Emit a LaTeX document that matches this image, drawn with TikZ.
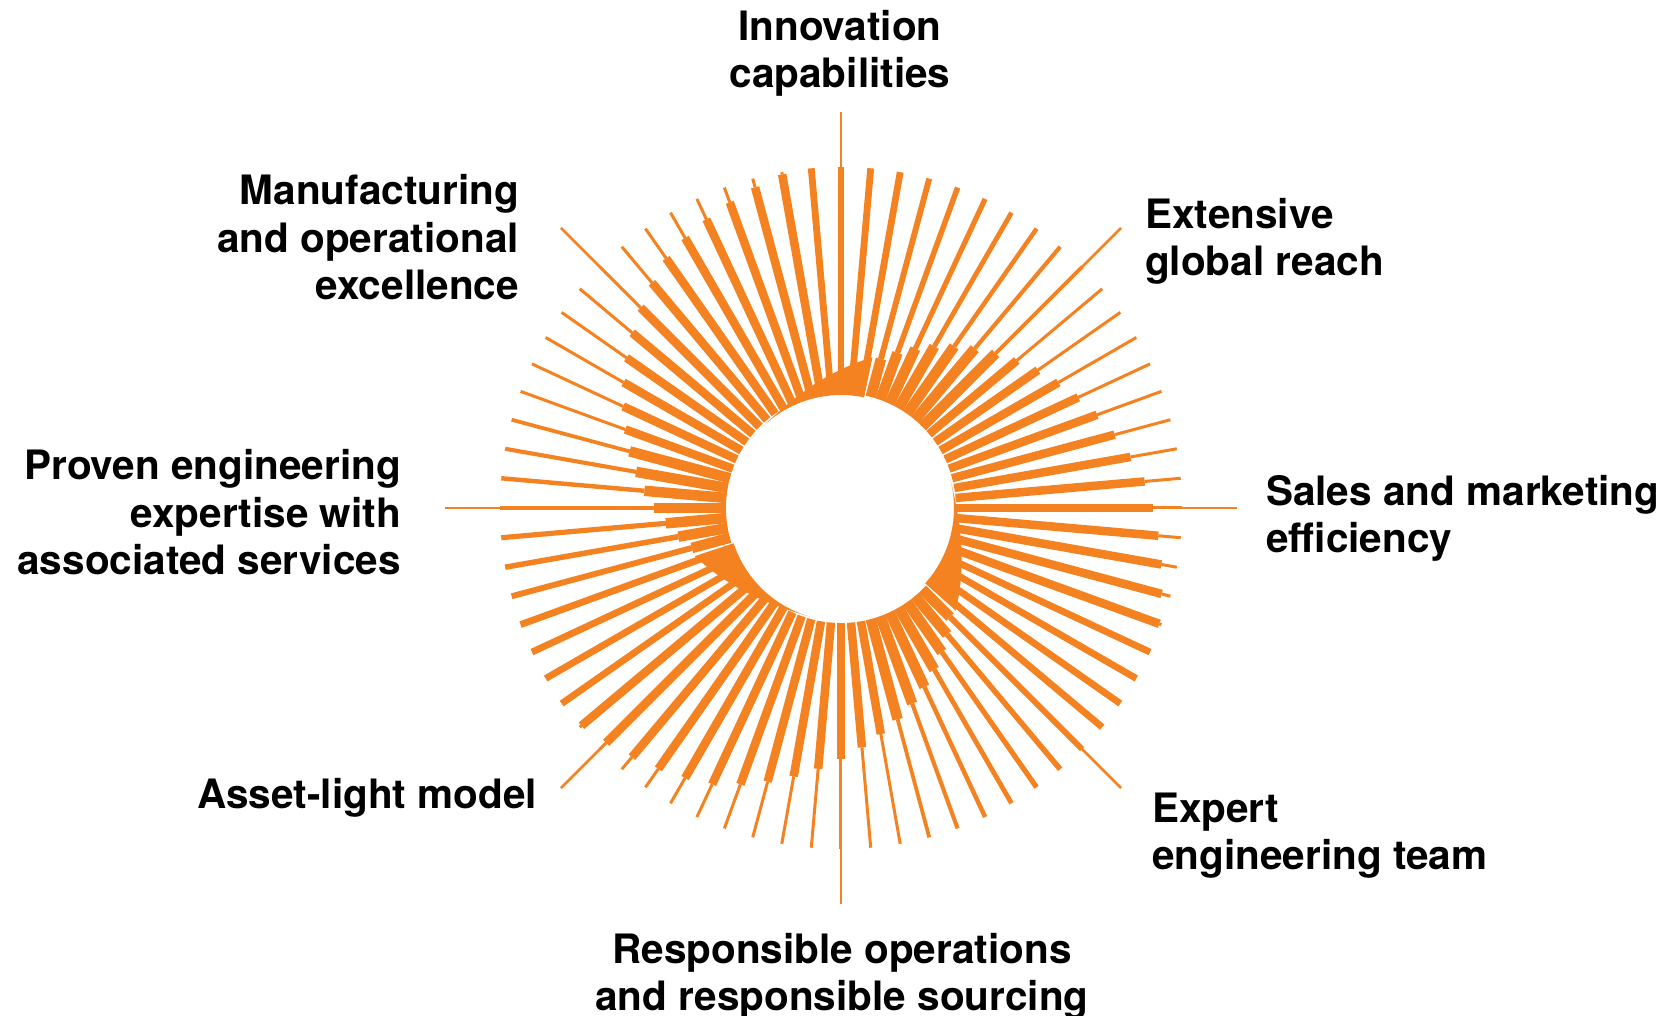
\documentclass[tikz,border=0pt]{standalone}
\usepackage{fontspec}
\setmainfont{TeX Gyre Heros}
\definecolor{sunor}{RGB}{245,130,32}
\begin{document}
\begin{tikzpicture}[x=1pt,y=1pt,
  lbl/.style={font=\fontsize{40.5}{47.5}\selectfont\bfseries, inner sep=0pt, text=black}]
\useasboundingbox (-841,-508) rectangle (824,508);
% crescents
\foreach \te in {11.8,131.8,251.8}{
  \pgfmathsetmacro\ts{\te-56}
  \fill[sunor] plot[domain=\ts:\te, samples=40] ({90-\x}:{113+41*((\x-\ts)/56)^2})
     -- ({90-\te}:113) arc[start angle={90-\te}, end angle={90-\ts}, radius=113] -- cycle;
}
% spikes
\foreach \i in {0,...,71}{
  \pgfmathsetmacro\t{5*\i}
  \pgfmathsetmacro\ps{mod(\t-13+360,120)}
  \pgfmathsetmacro\rs{\ps<=72 ? 150+2.15*\ps : min(341,305+1.35*(\ps-72))}
  \pgfmathsetmacro\wb{\ps<=34 ? 10.5 : (\ps>99 ? 6.8 : 8.5)}
  \pgfmathsetmacro\wo{\ps<=34 ? 6-0.07*\ps : 3}
  \draw[sunor, line width={\wb pt}] ({90-\t}:115) -- ({90-\t}:\rs);
  \draw[sunor, line width={\wo pt}] ({90-\t}:\rs) -- ({90-\t}:341);
}
% long lines
\foreach \a in {0,45,...,315}
  \draw[sunor, line width=2.6pt] ({90-\a}:340) -- ({90-\a}:396);
% labels
\node[lbl, anchor=north, align=center] (innov) at (-1,498) {Innovation\\capabilities};
\node[lbl, anchor=north east, align=right] (manuf) at (-322,333.5) {Manufacturing\\and operational\\excellence};
\node[lbl, anchor=north west, align=left] (reach) at (304,310) {Extensive\\global reach};
\node[lbl, anchor=north west, align=left] (sales) at (425,33) {Sales and marketing\\efficiency};
\node[lbl, anchor=north east, align=right] (proven) at (-440,58.5) {Proven engineering\\expertise with\\associated services};
\node[lbl, anchor=north east, align=right] (asset) at (-304,-269.7) {Asset-light model};
\node[lbl, anchor=north west, align=left] (expert) at (311,-284.5) {Expert\\engineering team};
\node[lbl, anchor=north, align=center] (resp) at (1,-424.7) {Responsible operations\\and responsible sourcing};
\end{tikzpicture}
\end{document}
